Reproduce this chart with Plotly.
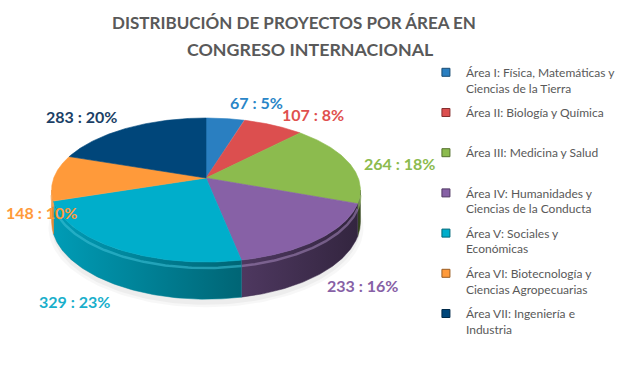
import numpy as np
import plotly.graph_objects as go

# ---------------- data ----------------
categories = [
    "Área I: Física, Matemáticas y<br>Ciencias de la Tierra",
    "Área II: Biología y Química<br>&nbsp;",
    "Área III: Medicina y Salud<br>&nbsp;",
    "Área IV: Humanidades y<br>Ciencias de la Conducta",
    "Área V: Sociales y<br>Económicas",
    "Área VI: Biotecnología y<br>Ciencias Agropecuarias",
    "Área VII: Ingeniería e<br>Industria",
]
values = [67, 107, 264, 233, 329, 148, 283]
percents = [5, 8, 18, 16, 23, 10, 20]
title_lines = ["DISTRIBUCIÓN DE PROYECTOS POR ÁREA EN", "CONGRESO INTERNACIONAL"]

# ---------------- style ----------------
colors = ["#2A7FC1", "#DC4F4F", "#8CBB4E", "#8761A6", "#00AECB", "#FF9A3A", "#00467A"]
label_colors = ["#2A86C8", "#E0504E", "#8CBB4E", "#8761A6", "#1AAFCB", "#FF9A3A", "#1B3F66"]
label_shift = [(31, -16), (40, -11), (51, 1), (43, 47), (-42, 53), (-12, 35), (-46, -11)]
title_pos = [(295, 22), (311, 49)]
title_sizes = [17, 17.8]

W, H = 621, 365
CX, CY = 207, 178          # apex of the pie on screen
A, B = 153, 70             # semi axes of the projected disc
P = 0.1667                 # perspective strength
DEPTH = 31                 # thickness of the pie


def proj(theta, dz=0.0):
    u = np.sin(theta)
    v = -np.cos(theta)
    s = 1.0 / (1.0 - P * v)
    return CX + A * u * s, CY + B * v * s + dz * s


def shade(hexcol, f):
    h = hexcol.lstrip("#")
    r, g, b = (int(h[i:i + 2], 16) for i in (0, 2, 4))
    return "rgb(%d,%d,%d)" % (r * f, g * f, b * f)


def lighten(hexcol, f):
    h = hexcol.lstrip("#")
    r, g, b = (int(h[i:i + 2], 16) for i in (0, 2, 4))
    return "rgb(%d,%d,%d)" % (r + (255 - r) * f, g + (255 - g) * f, b + (255 - b) * f)


total = float(sum(values))
cum = np.concatenate([[0.0], np.cumsum(values)]) / total
angles = cum * 2 * np.pi

fig = go.Figure()

# soft shadow under the pie
t = np.linspace(0, 2 * np.pi, 200)
for k, op in [(1.02, 0.03), (1.0, 0.04)]:
    sx, sy = proj(t, DEPTH + 3)
    fig.add_trace(go.Scatter(x=CX + (sx - CX) * k, y=CY + (sy - CY) * k + 2, mode="lines",
                             fill="toself", fillcolor="rgba(0,0,0,%.2f)" % op,
                             line=dict(width=0), hoverinfo="skip", showlegend=False))

# visible side range (silhouette of the cylinder)
vis0 = np.arccos(-P)
vis1 = 2 * np.pi - vis0
xmin_side, xmax_side = proj(vis1)[0], proj(vis0)[0]


def side_factor(x):
    tt = (x - xmin_side) / (xmax_side - xmin_side)
    return 0.9 - 0.52 * tt


# side faces
for i in range(len(values)):
    a0, a1 = max(angles[i], vis0), min(angles[i + 1], vis1)
    if a1 <= a0:
        continue
    tt = np.linspace(a0, a1, 80)
    xt, yt = proj(tt)
    xb, yb = proj(tt[::-1], DEPTH)
    xs = np.concatenate([xt, xb, xt[:1]])
    ys = np.concatenate([yt, yb, yt[:1]])
    xl, xr = xs.min(), xs.max()
    fig.add_trace(go.Scatter(
        x=xs, y=ys, mode="lines", fill="toself",
        line=dict(width=0.5, color=shade(colors[i], side_factor((xl + xr) / 2))),
        fillgradient=dict(type="horizontal",
                          colorscale=[[0, shade(colors[i], side_factor(xl))],
                                      [1, shade(colors[i], side_factor(xr))]]),
        hoverinfo="skip", showlegend=False))
    # bevel highlight
    hx, hy = proj(tt, 5)
    fig.add_trace(go.Scatter(x=hx, y=hy, mode="lines",
                             line=dict(width=2.5, color=lighten(colors[i], 0.25)),
                             opacity=0.55, hoverinfo="skip", showlegend=False))

# top faces
for i in range(len(values)):
    tt = np.linspace(angles[i], angles[i + 1], 120)
    xt, yt = proj(tt)
    xs = np.concatenate([[CX], xt, [CX]])
    ys = np.concatenate([[CY], yt, [CY]])
    fig.add_trace(go.Scatter(x=xs, y=ys, mode="lines", fill="toself",
                             fillcolor=colors[i], line=dict(width=0.6, color=colors[i]),
                             hoverinfo="skip", showlegend=False))

# legend entries
for i, name in enumerate(categories):
    fig.add_trace(go.Scatter(x=[None], y=[None], mode="markers", name=name,
                             legendgroup=str(i),
                             marker=dict(symbol="square", size=8, color=colors[i],
                                         line=dict(width=1, color=shade(colors[i], 0.6)))))

# data labels
for i in range(len(values)):
    mid = (angles[i] + angles[i + 1]) / 2
    lx, ly = proj(mid)
    dx, dy = label_shift[i]
    fig.add_annotation(x=lx, y=ly, xref="x", yref="y", text="%d : %d%%" % (values[i], percents[i]),
                       showarrow=False, xshift=dx, yshift=-dy,
                       font=dict(family="Lato", size=16, color=label_colors[i], weight="bold"))

# title (two lines)
for line, (tx, ty), fs in zip(title_lines, title_pos, title_sizes):
    fig.add_annotation(x=tx, y=ty, xref="x", yref="y", text=line, showarrow=False,
                       xanchor="center", yanchor="middle",
                       font=dict(family="Lato", size=fs, color="#595959", weight="bold"))

fig.update_layout(
    width=W, height=H,
    margin=dict(l=0, r=0, t=0, b=0, pad=0),
    paper_bgcolor="white", plot_bgcolor="white",
    xaxis=dict(range=[0, W], visible=False, fixedrange=True),
    yaxis=dict(range=[H, 0], visible=False, fixedrange=True),
    legend=dict(x=428 / W, xanchor="left", y=1 - 58 / H, yanchor="top",
                font=dict(family="Lato", size=12, color="#595959"),
                traceorder="grouped", tracegroupgap=6, valign="top",
                bgcolor="rgba(0,0,0,0)", itemwidth=30),
    showlegend=True,
)

fig.write_html("out.html", config={"displayModeBar": False},
               post_script="document.body.style.margin='0';")
